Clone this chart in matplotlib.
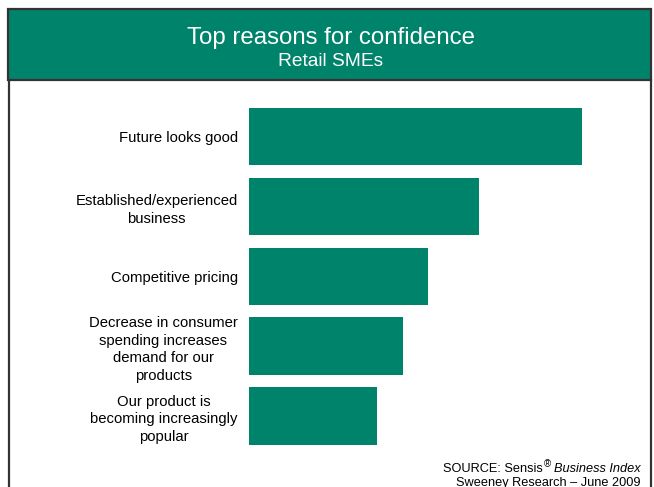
import matplotlib.pyplot as plt
from matplotlib.patches import Rectangle
from matplotlib.lines import Line2D

# data
reasons = ["Future looks good",
           "Established/experienced\nbusiness",
           "Competitive pricing",
           "Decrease in consumer\nspending increases\ndemand for our\nproducts",
           "Our product is\nbecoming increasingly\npopular"]
values = [26, 18, 14, 12, 10]

green = "#00836B"
edge = "#333333"
W, H = 654, 487

plt.rcParams['font.family'] = ['Liberation Sans', 'DejaVu Sans']

fig = plt.figure(figsize=(W / 100, H / 100), dpi=100)

def fx(px):
    return px / W

def fy(py):
    return 1 - py / H

# header band
fig.patches.append(Rectangle((fx(8), fy(80)), fx(643), 71 / H, transform=fig.transFigure,
                             facecolor=green, edgecolor=edge, linewidth=1.6, zorder=0))
# side borders of the white panel
fig.add_artist(Line2D([fx(9), fx(9)], [fy(80), 0], color=edge, linewidth=1.6))
fig.add_artist(Line2D([fx(651), fx(651)], [fy(80), 0], color=edge, linewidth=1.6))

fig.text(fx(331), fy(38), "Top reasons for confidence", color="white",
         fontsize=17.3, ha="center", va="center")
fig.text(fx(331), fy(62), "Retail SMEs", color="white",
         fontsize=13.8, ha="center", va="center")

# bars
ax_left, ax_top, ax_bot = 249, 101.5, 451
xmax = 30
ax = fig.add_axes([fx(ax_left), fy(ax_bot), xmax * 12.8 / W, (ax_bot - ax_top) / H])
pos = list(range(len(reasons)))
ax.barh(pos, values, height=0.82, color=green)
ax.set_xlim(0, xmax)
ax.set_ylim(len(reasons) - 0.5, -0.5)
ax.set_yticks(pos)
ax.set_yticklabels(reasons, fontsize=10.7)
ax.tick_params(axis="y", length=0, pad=8)
for t in ax.get_yticklabels():
    t.set_multialignment("center")
    t.set_linespacing(1.35)
ax.set_xticks([])
for s in ax.spines.values():
    s.set_visible(False)
ax.patch.set_alpha(0)

# source note
t1 = fig.text(fx(641), fy(475), "Business Index", fontsize=9.2, style="italic",
              ha="right", va="bottom")
ax.annotate("\u00ae", xy=(0, 0.45), xycoords=t1, xytext=(-2.5, 0),
            textcoords="offset points", fontsize=7, ha="right", va="bottom")
ax.annotate("SOURCE: Sensis", xy=(0, 0), xycoords=t1, xytext=(-2.5 - 6, 0),
            textcoords="offset points", fontsize=9.2, ha="right", va="bottom")
fig.text(fx(641), fy(488.5), "Sweeney Research \u2013 June 2009", fontsize=9.2,
         ha="right", va="bottom")

fig.savefig("out.png", dpi=100)
